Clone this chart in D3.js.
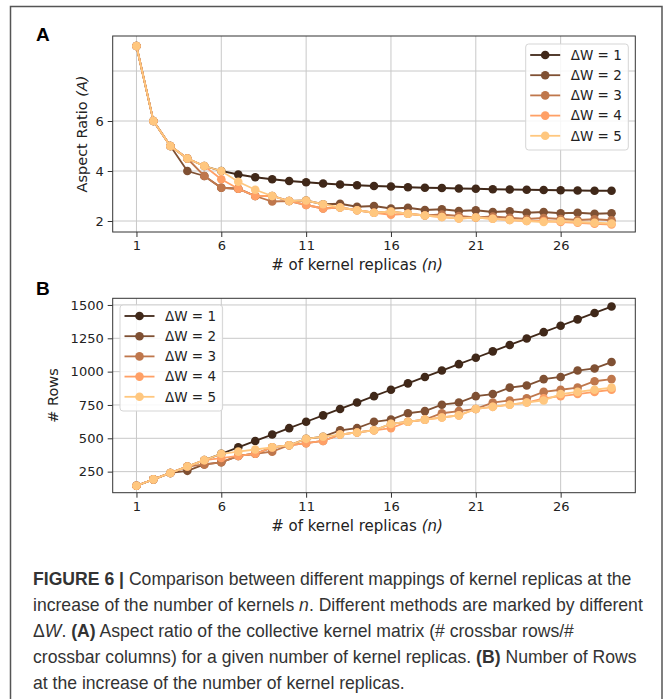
<!DOCTYPE html>
<html>
<head>
<meta charset="utf-8">
<script src="https://cdn.jsdelivr.net/npm/d3@7"></script>
<style>
  body { margin: 0; background: #fff; }
  text { font-family: "DejaVu Sans", sans-serif; }
</style>
</head>
<body>
<div id="fig"></div>
<script>
// number of kernel replicas (x axis)
var replicas = [1,2,3,4,5,6,7,8,9,10,11,12,13,14,15,16,17,18,19,20,21,22,23,24,25,26,27,28,29];
var xTicks = [1, 6, 11, 16, 21, 26];
var seriesNames = ["ΔW = 1", "ΔW = 2", "ΔW = 3", "ΔW = 4", "ΔW = 5"];

// panel A: aspect ratio
var aspectW1 = [9.00,6.00,5.00,4.50,4.20,4.00,3.86,3.75,3.67,3.60,3.55,3.50,3.46,3.43,3.40,3.38,3.35,3.33,3.32,3.30,3.29,3.27,3.26,3.25,3.24,3.23,3.22,3.21,3.21];
var aspectW2 = [9.00,6.00,5.00,4.00,3.80,3.33,3.29,3.00,3.00,2.80,2.82,2.67,2.69,2.57,2.60,2.50,2.53,2.44,2.47,2.40,2.43,2.36,2.39,2.33,2.36,2.31,2.33,2.29,2.31];
var aspectW3 = [9.00,6.00,5.00,4.50,3.80,3.33,3.29,3.00,2.78,2.80,2.64,2.50,2.54,2.43,2.33,2.38,2.29,2.22,2.26,2.20,2.14,2.18,2.13,2.08,2.12,2.08,2.04,2.07,2.03];
var aspectW4 = [9.00,6.00,5.00,4.50,4.20,3.67,3.29,3.00,3.00,2.80,2.64,2.50,2.54,2.43,2.33,2.25,2.29,2.22,2.16,2.10,2.14,2.09,2.04,2.00,2.00,1.96,1.93,1.89,1.86];
var aspectW5 = [9.00,6.00,5.00,4.50,4.20,4.00,3.57,3.25,3.00,2.80,2.82,2.67,2.54,2.43,2.33,2.38,2.29,2.22,2.16,2.10,2.14,2.09,2.04,2.00,1.96,2.00,1.96,1.93,1.90];
var aspectTicks = [2, 4, 6];
var aspectGrid = [2, 4, 6, 8];

// panel B: number of rows
var rowsW1 = [144,192,240,288,336,384,432,480,528,576,624,672,720,768,816,864,912,960,1008,1056,1104,1152,1200,1248,1296,1344,1392,1440,1488];
var rowsW2 = [144,192,240,256,304,320,368,384,432,448,496,512,560,576,624,640,688,704,752,768,816,832,880,896,944,960,1008,1024,1072];
var rowsW3 = [144,192,240,288,304,320,368,384,400,448,464,480,528,544,560,608,624,640,688,704,720,768,784,800,848,864,880,928,944];
var rowsW4 = [144,192,240,288,336,352,368,384,432,448,464,480,528,544,560,576,624,640,656,672,720,736,752,768,800,816,832,848,864];
var rowsW5 = [144,192,240,288,336,384,400,416,432,448,496,512,528,544,560,608,624,640,656,672,720,736,752,768,784,832,848,864,880];
var rowTicks = [250, 500, 750, 1000, 1250, 1500];

var colors = ["#402819", "#7f5033", "#bf774c", "#ffa066", "#ffc77f"];

var svg = d3.select("#fig").append("svg")
  .attr("width", 666)
  .attr("height", 699);

// figure frame
svg.append("rect")
  .attr("x", 10.5).attr("y", 6.5)
  .attr("width", 651.5).attr("height", 720)
  .attr("fill", "none").attr("stroke", "#555").attr("stroke-width", 1.5);

var x = d3.scaleLinear().domain([-0.4, 30.4]).range([112.7, 635.3]);

function drawPanel(cfg) {
  var y = d3.scaleLinear().domain(cfg.domain).range([cfg.bottom, cfg.top]);
  var g = svg.append("g");

  // grid
  g.selectAll(".vgrid").data(xTicks).enter().append("line")
    .attr("x1", d => x(d)).attr("x2", d => x(d))
    .attr("y1", cfg.top).attr("y2", cfg.bottom)
    .attr("stroke", "#c8c8c8").attr("stroke-width", 1);
  g.selectAll(".hgrid").data(cfg.grid).enter().append("line")
    .attr("x1", x.range()[0]).attr("x2", x.range()[1])
    .attr("y1", d => y(d)).attr("y2", d => y(d))
    .attr("stroke", "#c8c8c8").attr("stroke-width", 1);

  // axes
  var xAxis = g.append("g")
    .attr("transform", `translate(0, ${cfg.bottom})`)
    .call(d3.axisBottom(x).tickValues(xTicks).tickSize(5).tickPadding(4));
  var yAxis = g.append("g")
    .attr("transform", `translate(${x.range()[0]}, 0)`)
    .call(d3.axisLeft(y).tickValues(cfg.ticks).tickFormat(d3.format("d")).tickSize(5).tickPadding(4));
  [xAxis, yAxis].forEach(function(a) {
    a.select(".domain").remove();
    a.selectAll("line").attr("stroke", "#333");
    a.selectAll("text").attr("fill", "#222").style("font-size", "13px")
      .style("font-family", "DejaVu Sans, sans-serif");
  });

  // series
  var line = d3.line().x((d, i) => x(replicas[i])).y(d => y(d));
  cfg.series.forEach(function(vals, s) {
    g.append("path")
      .attr("d", line(vals))
      .attr("fill", "none")
      .attr("stroke", colors[s])
      .attr("stroke-width", 1.8);
    g.selectAll(".pt" + s).data(vals).enter().append("circle")
      .attr("cx", (d, i) => x(replicas[i]))
      .attr("cy", d => y(d))
      .attr("r", 4.3)
      .attr("fill", colors[s]);
  });

  // frame
  g.append("rect")
    .attr("x", x.range()[0]).attr("y", cfg.top)
    .attr("width", x.range()[1] - x.range()[0])
    .attr("height", cfg.bottom - cfg.top)
    .attr("fill", "none").attr("stroke", "#333").attr("stroke-width", 1);

  // labels
  g.append("text")
    .attr("x", 357).attr("y", cfg.bottom + 38)
    .attr("text-anchor", "middle")
    .style("font-size", "15px").attr("fill", "#222")
    .html('# of kernel replicas <tspan font-style="italic">(n)</tspan>');
  g.append("text")
    .attr("transform", `translate(${cfg.ylabelX}, ${(cfg.top + cfg.bottom) / 2}) rotate(-90)`)
    .attr("dy", "0.35em")
    .attr("text-anchor", "middle")
    .style("font-size", "14.5px").attr("fill", "#222")
    .html(cfg.ylabel);
  g.append("text")
    .attr("x", 36).attr("y", cfg.letterY)
    .style("font-family", "Liberation Sans, Arial, sans-serif")
    .style("font-weight", "bold").style("font-size", "19px")
    .text(cfg.letter);

  // legend
  var lg = g.append("g").attr("transform", `translate(${cfg.legend[0]}, ${cfg.legend[1]})`);
  lg.append("rect")
    .attr("width", 102.6).attr("height", 106).attr("rx", 3)
    .attr("fill", "#fff").attr("fill-opacity", 0.85)
    .attr("stroke", "#d5d5d5");
  seriesNames.forEach(function(name, s) {
    var yy = 11 + s * 20.2;
    lg.append("line")
      .attr("x1", 4.5).attr("x2", 34.5).attr("y1", yy).attr("y2", yy)
      .attr("stroke", colors[s]).attr("stroke-width", 1.8);
    lg.append("circle").attr("cx", 19.5).attr("cy", yy).attr("r", 4.3).attr("fill", colors[s]);
    lg.append("text")
      .attr("x", 45).attr("y", yy).attr("dy", "0.36em")
      .style("font-size", "13.5px").attr("fill", "#222")
      .attr("xml:space", "preserve")
      .text(name);
  });
}

drawPanel({
  letter: "A", letterY: 41,
  top: 36, bottom: 232,
  domain: [1.56, 9.4],
  ticks: aspectTicks, grid: aspectGrid,
  series: [aspectW1, aspectW2, aspectW3, aspectW4, aspectW5],
  ylabel: 'Aspect Ratio <tspan font-style="italic">(A)</tspan>',
  ylabelX: 81.7,
  legend: [525.7, 44]
});

drawPanel({
  letter: "B", letterY: 295,
  top: 298.3, bottom: 492.7,
  domain: [92, 1550],
  ticks: rowTicks, grid: rowTicks,
  series: [rowsW1, rowsW2, rowsW3, rowsW4, rowsW5],
  ylabel: "# Rows",
  ylabelX: 53.3,
  legend: [120, 305]
});

// caption
var captionLines = [
  '<tspan font-weight="bold">FIGURE 6 |</tspan> Comparison between different mappings of kernel replicas at the',
  'increase of the number of kernels <tspan font-style="italic">n</tspan>. Different methods are marked by different',
  'Δ<tspan font-style="italic">W</tspan>. <tspan font-weight="bold">(A)</tspan> Aspect ratio of the collective kernel matrix (# crossbar rows/#',
  'crossbar columns) for a given number of kernel replicas. <tspan font-weight="bold">(B)</tspan> Number of Rows',
  'at the increase of the number of kernel replicas.'
];
var cap = svg.append("g");
var capText = cap.selectAll("text").data(captionLines).enter().append("text")
  .attr("x", 0)
  .attr("y", (d, i) => 585 + i * 26)
  .style("font-family", "Liberation Sans, Arial, sans-serif")
  .style("font-size", "17.5px")
  .attr("fill", "#333")
  .html(d => d);
var widest = capText.nodes()[1].getComputedTextLength();
var sx = 610 / widest;
cap.attr("transform", `translate(33, 0) scale(${sx}, 1)`);
</script>
</body>
</html>
